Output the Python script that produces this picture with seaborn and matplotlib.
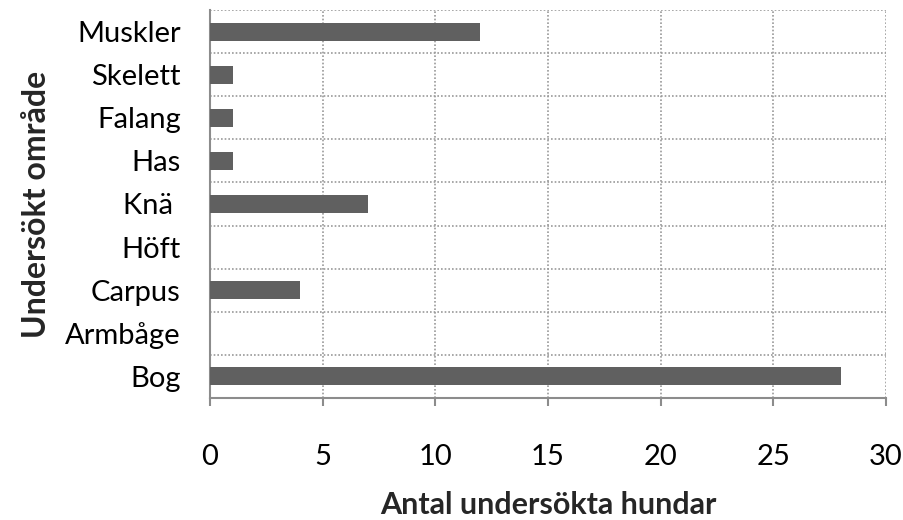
import matplotlib
matplotlib.use("Agg")
import matplotlib.pyplot as plt
import seaborn as sns
import pandas as pd
import numpy as np

categories = ["Muskler", "Skelett", "Falang", "Has", "Knä ", "Höft", "Carpus", "Armbåge", "Bog"]
values = [12, 1, 1, 1, 7, 0, 4, 0, 28]
x_ticks = [0, 5, 10, 15, 20, 25, 30]

sns.set_style("white")
plt.rcParams["font.family"] = ["Lato", "DejaVu Sans"]

df = pd.DataFrame({"cat": categories, "val": values})

fig = plt.figure(figsize=(9.04, 5.2), dpi=100)
ax = fig.add_axes([210 / 904, 1 - 398 / 520, (886 - 210) / 904, (398 - 10) / 520])

sns.barplot(data=df, x="val", y="cat", orient="h", color="#606060",
            saturation=1, width=0.42, ax=ax, zorder=3)
for p in ax.patches:
    p.set_edgecolor("none")

ax.set_xlim(0, 30)
ax.set_ylim(len(categories) - 0.5, -0.5)
ax.set_xticks(x_ticks)
ax.set_xticklabels([str(t) for t in x_ticks])

# gridlines
for xv in x_ticks[1:]:
    ax.axvline(xv, color="#9a9a9a", linestyle=(0, (1, 1.2)), linewidth=1.2, zorder=1)
for yb in np.arange(-0.5, len(categories) - 1, 1.0):
    ax.axhline(yb, color="#9a9a9a", linestyle=(0, (1, 1.2)), linewidth=1.2, zorder=1)

for s in ["top", "right"]:
    ax.spines[s].set_visible(False)
for s in ["left", "bottom"]:
    ax.spines[s].set_color("#8c8c8c")
    ax.spines[s].set_linewidth(1.5)

ax.tick_params(axis="x", direction="out", length=6, width=1.5, color="#8c8c8c",
               pad=27, labelsize=21, labelcolor="black", bottom=True)
ax.tick_params(axis="y", length=0, pad=21, labelsize=21, labelcolor="black")

ax.set_xlabel("Antal undersökta hundar", fontsize=22, fontweight="bold", labelpad=15)
ax.set_ylabel("Undersökt område", fontsize=23, fontweight="bold", labelpad=10)

fig.savefig("out.png", dpi=100)
